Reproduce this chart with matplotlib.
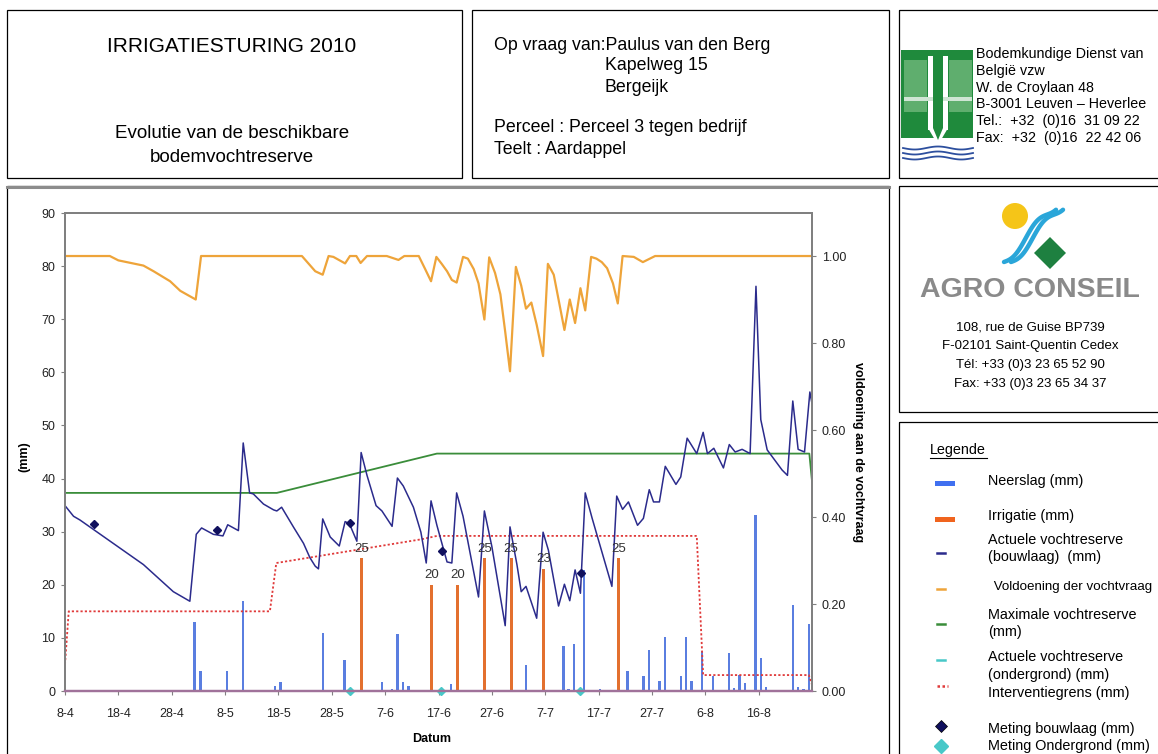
import matplotlib
matplotlib.use('Agg')
import matplotlib.pyplot as plt
from matplotlib.patches import Rectangle, Circle, Polygon
import numpy as np

plt.rcParams['font.family'] = ['Liberation Sans', 'DejaVu Sans']

# ---- data (day 0 = 8 april 2010) ----
tick_labels = ['8-4', '18-4', '28-4', '8-5', '18-5', '28-5', '7-6',
               '17-6', '27-6', '7-7', '17-7', '27-7', '6-8', '16-8']

# actuele vochtreserve bouwlaag (mm)
reserve_day = [0, 1.6, 2.8, 14.7, 20.3, 23.4, 24.6, 25.6, 27.8, 29.6, 30.5, 32.5,
               33.4, 34.6, 35.3, 37.2, 39.1, 39.7, 40.6, 42.8, 44.7, 45.9, 46.9,
               47.5, 48.3, 49.7, 51.4, 52.5, 53.3, 54.7, 55.5, 56.6, 58.3, 59.4,
               61.3, 62.3, 63.4, 65.3, 66.7, 67.7, 68.6, 69.7, 71.6, 72.5, 73.4,
               74.6, 77.5, 78.6, 80.0, 82.5, 83.4, 84.7, 85.5, 86.4, 88.4, 89.6,
               90.6, 92.5, 93.6, 94.6, 95.6, 96.6, 97.5, 98.8, 102.5, 103.4, 104.5,
               105.6, 107.3, 108.4, 109.5, 110.3, 111.4, 112.5, 114.5, 115.4, 116.6,
               118.4, 119.6, 120.4, 121.6, 123.4, 124.5, 125.6, 126.9, 128.4, 129.5,
               130.4, 131.6, 134.4, 135.4, 136.4, 137.4, 138.6, 139.6, 140]
reserve_mm = [34.9, 32.9, 32.2, 23.8, 18.7, 16.9, 29.5, 30.7, 29.5, 29.2, 31.3, 30.2,
              46.7, 37.3, 37.1, 35.2, 34.1, 33.9, 34.6, 30.9, 27.8, 25.1, 23.5,
              23.0, 32.4, 29.0, 27.3, 31.9, 31.5, 28.2, 44.9, 40.6, 34.9, 33.9,
              31.0, 40.1, 38.6, 34.6, 29.9, 24.1, 35.8, 31.2, 24.3, 24.1, 37.3,
              32.9, 17.7, 33.9, 27.2, 12.3, 30.9, 23.8, 18.7, 19.7, 13.7, 29.9,
              26.5, 16.0, 20.1, 17.0, 22.8, 18.4, 37.3, 32.5, 19.7, 36.7, 34.2,
              35.6, 31.2, 32.5, 37.9, 35.6, 35.6, 42.3, 38.9, 40.3, 47.6,
              44.7, 48.7, 44.7, 45.7, 42.0, 46.4, 45.0, 45.5, 44.7, 76.2,
              51.1, 45.4, 41.6, 40.6, 54.6, 45.5, 45.0, 56.3, 54.1]

# voldoening der vochtvraag (fractie, rechter as)
demand_day = [0, 8.4, 10, 14.7, 16.6, 19.7, 21.6, 24.5, 25.5, 44.4, 46.9, 48.3,
              49.4, 50.3, 52.5, 53.4, 54.6, 55.4, 56.6, 60.3, 62.5, 63.6, 66.3,
              67.5, 68.6, 69.6, 70.6, 71.6, 72.5, 73.4, 74.6, 75.5, 76.6, 77.5,
              78.6, 79.5, 80.6, 81.6, 82.5, 83.4, 84.5, 85.5, 86.4, 87.4, 88.4,
              89.6, 90.5, 91.6, 92.5, 93.6, 94.6, 95.6, 96.6, 97.5, 98.6, 99.6,
              100.6, 101.6, 102.7, 103.6, 104.5, 106.6, 108.3, 110.6, 140]
demand_frac = [1.0, 1.0, 0.99, 0.978, 0.965, 0.942, 0.92, 0.90, 1.0, 1.0, 0.965, 0.957,
               1.0, 0.998, 0.983, 1.0, 1.0, 0.984, 1.0, 1.0, 0.991, 1.0, 1.0,
               0.97, 0.942, 0.998, 0.982, 0.965, 0.945, 0.939, 0.998, 0.994, 0.970, 0.937,
               0.854, 0.997, 0.961, 0.912, 0.826, 0.735, 0.975, 0.932, 0.879, 0.893, 0.842,
               0.770, 0.982, 0.957, 0.900, 0.830, 0.900, 0.846, 0.926, 0.875, 0.998, 0.994,
               0.986, 0.972, 0.937, 0.891, 1.0, 0.998, 0.986, 1.0, 1.0]

# maximale vochtreserve (mm)
maxres_day = [0, 39.7, 69.7, 139.5, 140]
maxres_mm = [37.3, 37.3, 44.7, 44.7, 39.5]

# interventiegrens (mm)
limit_day = [0, 0.7, 38.4, 39.6, 67.0, 69.7, 118.4, 119.6, 139.4, 140]
limit_mm = [5.0, 15.0, 15.0, 24.1, 28.6, 29.2, 29.2, 3.0, 3.0, 1.2]

# neerslag (mm)
rain_day = [24.3, 25.4, 30.4, 33.4, 39.4, 40.4, 48.3, 52.4, 59.4, 61.3, 62.3, 63.4,
            64.4, 72.3, 86.4, 93.4, 94.4, 95.4, 97.3, 100.3, 105.4, 108.4, 109.4,
            111.4, 112.4, 115.4, 116.4, 117.4, 119.4, 121.4, 124.4, 125.4, 126.4,
            127.4, 129.4, 130.4, 131.4, 136.4, 137.4, 138.4, 139.4]
rain_mm = [12.9, 3.8, 3.8, 16.9, 0.9, 1.7, 11.0, 5.9, 1.7, 0.3, 10.8, 1.7,
           1.0, 1.3, 4.9, 8.4, 0.3, 8.8, 22.8, 0.4, 3.8, 2.9, 7.8,
           1.8, 10.1, 2.8, 10.1, 1.9, 7.5, 2.9, 7.1, 0.5, 3.1,
           1.5, 33.2, 6.3, 0.7, 16.2, 0.7, 0.3, 12.7]

# irrigatie (mm)
irr_day = [55.6, 68.7, 73.6, 78.7, 83.6, 89.7, 103.7]
irr_mm = [25, 20, 20, 25, 25, 23, 25]

# metingen
meas_day = [5.4, 28.4, 53.4, 70.6, 96.7]
meas_mm = [31.5, 30.4, 31.7, 26.3, 22.3]
sub_day = [53.4, 70.5, 96.6]
sub_mm = [0, 0, 0]

full_demand_mm = 81.9   # 1.00 op de rechter as

W, H = 1158, 754
fig = plt.figure(figsize=(W / 100, H / 100), dpi=100)

# ---- page layout in pixel coordinates ----
bg = fig.add_axes([0, 0, 1, 1], zorder=0)
bg.set_xlim(0, W)
bg.set_ylim(H, 0)
bg.axis('off')


def box(x0, y0, x1, y1, ec='black', lw=0.9):
    bg.add_patch(Rectangle((x0, y0), x1 - x0, y1 - y0, fill=False, ec=ec, lw=lw))


box(7, 10, 462, 178)
box(472, 10, 889, 178)
box(899, 10, 1170, 178)
box(7, 186, 889, 770)
bg.plot([7, 889], [186.5, 186.5], color='#8c8c8c', lw=2.2)
box(899, 186, 1170, 412)
box(899, 422, 1170, 770)

# header texts
bg.text(232, 47, 'IRRIGATIESTURING 2010', ha='center', va='center', fontsize=15)
bg.text(232, 134, 'Evolutie van de beschikbare', ha='center', va='center', fontsize=13.5)
bg.text(232, 157, 'bodemvochtreserve', ha='center', va='center', fontsize=13.5)

bg.text(494, 46, 'Op vraag van:Paulus van den Berg', va='center', fontsize=12.8)
bg.text(605, 66, 'Kapelweg 15', va='center', fontsize=12.8)
bg.text(605, 87, 'Bergeijk', va='center', fontsize=12.8)
bg.text(494, 128, 'Perceel : Perceel 3 tegen bedrijf', va='center', fontsize=12.8)
bg.text(494, 149, 'Teelt : Aardappel', va='center', fontsize=12.8)

bds_lines = ['Bodemkundige Dienst van', 'België vzw', 'W. de Croylaan 48',
             'B-3001 Leuven – Heverlee', 'Tel.:  +32  (0)16  31 09 22',
             'Fax:  +32  (0)16  22 42 06']
for i, line in enumerate(bds_lines):
    bg.text(976, 54 + i * 16.8, line, va='center', fontsize=10.3)

# BDB logo
green = '#1f8a3c'
bg.add_patch(Rectangle((901, 50), 72, 88, fc=green, ec='none'))
bg.add_patch(Rectangle((904, 60), 23, 52, fc='#5fae6e', ec='none'))
bg.add_patch(Rectangle((949, 60), 23, 52, fc='#5fae6e', ec='none'))
bg.add_patch(Rectangle((928, 56), 5, 74, fc='white', ec='none'))
bg.add_patch(Rectangle((943, 56), 5, 74, fc='white', ec='none'))
bg.add_patch(Rectangle((904, 97), 68, 4, fc='#cfe5d4', ec='none'))
bg.add_patch(Polygon([(928, 128), (948, 128), (938, 145)], fc='white', ec='none'))
bg.add_patch(Polygon([(933, 56), (943, 56), (943, 128), (938, 140), (933, 128)],
                     fc=green, ec='none'))
t = np.linspace(0, 1, 60)
for yy in (148, 153, 158):
    bg.plot(903 + 70 * t, yy + 1.5 * np.sin(2 * np.pi * 1.5 * t), color='#2d4f9e', lw=1.3)

# Agro Conseil logo
bg.add_patch(Circle((1015, 216), 13, fc='#f5c518', ec='none'))
for off in (0, 7):
    bg.plot(1004 + off + 52 * t, 262 - 57 * t + 5 * np.sin(2 * np.pi * 1.2 * t),
            color='#2aa6d9', lw=3.2, solid_capstyle='round')
bg.add_patch(Polygon([(1050, 237), (1066, 253), (1050, 269), (1034, 253)],
                     fc='#1e8040', ec='none'))
bg.text(1030, 290, 'AGRO CONSEIL', ha='center', va='center', fontsize=20.5,
        fontweight='bold', color='#8a8a8a')
agro_lines = ['108, rue de Guise BP739', 'F-02101 Saint-Quentin Cedex',
              'Tél: +33 (0)3 23 65 52 90', 'Fax: +33 (0)3 23 65 34 37']
for i, line in enumerate(agro_lines):
    bg.text(1030, 327 + i * 19, line, ha='center', va='center', fontsize=9.5)

# legend
bg.text(930, 450, 'Legende', va='center', fontsize=10.4)
bg.plot([930, 987], [457.5, 457.5], color='black', lw=0.8)
rain_col = '#5a7ee0'
irr_col = '#e3702e'
res_col = '#2b2b8c'
dem_col = '#eea43a'
max_col = '#3a8d3a'
sub_col = '#48c8c8'
lim_col = '#e03a3a'
bg.add_patch(Rectangle((935, 481), 20, 5, fc='#4070f0', ec='none'))
bg.add_patch(Rectangle((935, 517), 20, 5, fc='#f0641e', ec='none'))
for yy, col in ((553, res_col), (589, dem_col), (624, max_col), (660, sub_col)):
    bg.plot([937, 945], [yy, yy], color=col, lw=1.8)
bg.plot([937, 948], [686, 686], color=lim_col, lw=1.8, ls=(0, (1, 1)))
bg.plot([941], [726], marker='D', ms=6, color='#10105e', mec='black', mew=0.5)
bg.plot([941], [746], marker='D', ms=7, color=sub_col, mec=sub_col)
legend_text = [(481, 'Neerslag (mm)'), (516, 'Irrigatie (mm)'),
               (540, 'Actuele vochtreserve'), (557, '(bouwlaag)  (mm)'),
               (615, 'Maximale vochtreserve'), (632, '(mm)'),
               (657, 'Actuele vochtreserve'), (675, '(ondergrond) (mm)'),
               (693, 'Interventiegrens (mm)'),
               (729, 'Meting bouwlaag (mm)'), (746, 'Meting Ondergrond (mm)')]
for yy, s in legend_text:
    bg.text(988, yy, s, va='center', fontsize=10.4)
# slightly smaller so the long label stays inside the page
bg.text(990, 587, ' Voldoening der vochtvraag', va='center', fontsize=9.6)

# ---- chart ----
ax = fig.add_axes([65 / W, 1 - 691 / H, 747 / W, 478 / H], zorder=1)
ax.set_facecolor('none')
ax2 = ax.twinx()

ax.bar(rain_day, rain_mm, width=0.45, color=rain_col, zorder=2)
ax.bar(irr_day, irr_mm, width=0.55, color=irr_col, zorder=2)
for d, v in zip(irr_day, irr_mm):
    ax.annotate(str(v), (d, v), xytext=(0, 2.5), textcoords='offset points',
                ha='center', va='bottom', fontsize=9.5, color='#333333', zorder=4)

ax.plot(maxres_day, maxres_mm, color=max_col, lw=1.3, zorder=3)
ax.plot(limit_day, limit_mm, color=lim_col, lw=1.3, ls=(0, (1.2, 1.2)), zorder=3)
ax.plot(reserve_day, reserve_mm, color=res_col, lw=1.1, zorder=3)
ax.plot(meas_day, meas_mm, ls='none', marker='D', ms=4.2, color='#10105e', zorder=5)
ax.plot(sub_day, sub_mm, ls='none', marker='D', ms=4.2, color=sub_col, zorder=5,
        clip_on=False)
ax2.plot(demand_day, demand_frac, color=dem_col, lw=1.6)

ax.set_xlim(0, 140)
ax.set_ylim(0, 90)
ax2.set_ylim(0, 90 / full_demand_mm)
ax.set_xticks(range(0, 140, 10))
ax.set_xticklabels(tick_labels)
ax.set_yticks(range(0, 91, 10))
ax2.set_yticks([0, 0.2, 0.4, 0.6, 0.8, 1.0])
ax2.set_yticklabels(['0.00', '0.20', '0.40', '0.60', '0.80', '1.00'])

for a in (ax, ax2):
    for s in a.spines.values():
        s.set_color('#808080')
        s.set_linewidth(1.4)
    a.spines['bottom'].set_color('#a0729a')
    a.spines['bottom'].set_linewidth(1.6)
ax.tick_params(axis='x', length=3, color='#808080', pad=9, labelsize=9, labelcolor='#222222')
ax.tick_params(axis='y', length=3, color='#808080', pad=4, labelsize=9, labelcolor='#222222')
ax2.tick_params(axis='y', length=3, color='#808080', pad=4, labelsize=9, labelcolor='#222222')

ax.set_xlabel('Datum', fontsize=9, fontweight='bold')
ax.xaxis.set_label_coords(0.491, -0.088)
ax.set_ylabel('(mm)', fontsize=9, fontweight='bold')
ax.yaxis.set_label_coords(-0.047, 0.49)
ax2.set_ylabel('voldoening aan de vochtvraag', fontsize=9, fontweight='bold',
               rotation=270, va='center')
ax2.yaxis.set_label_coords(1.062, 0.5)

fig.savefig('out.png', dpi=100)
